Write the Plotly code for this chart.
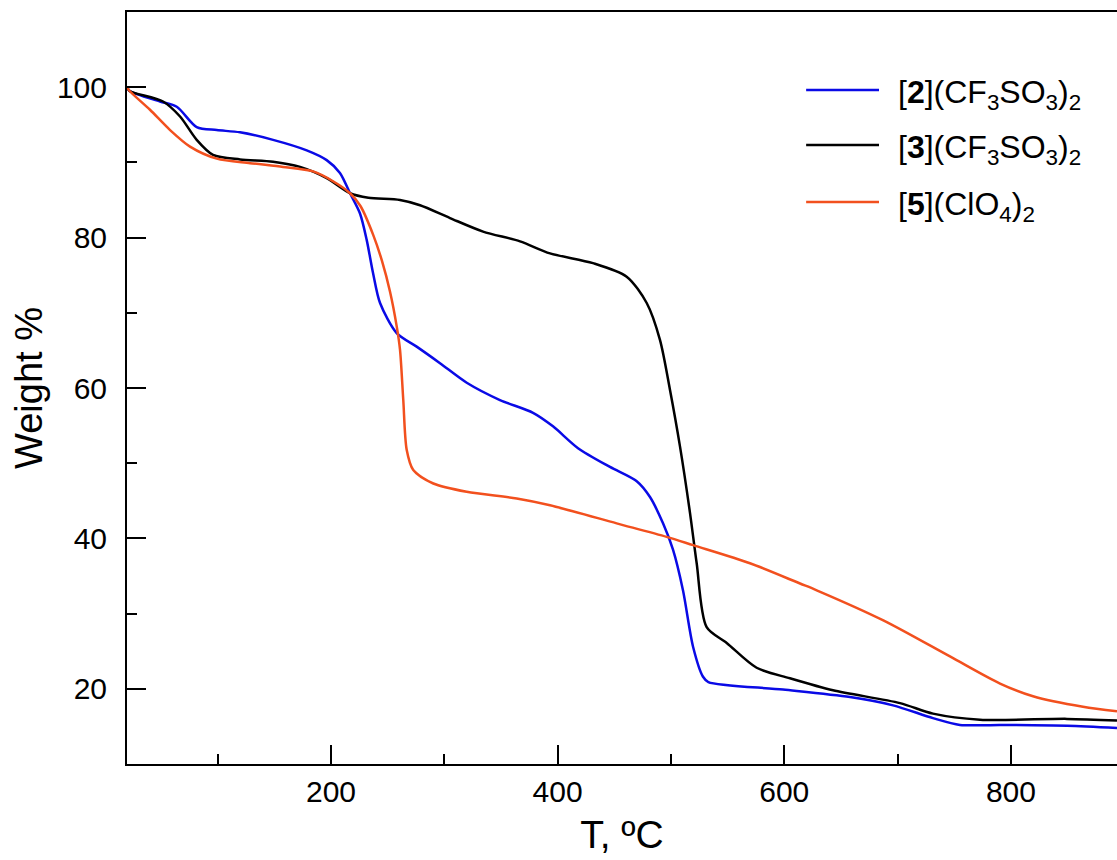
import plotly.graph_objects as go

# ---- data ----
series_names = ["[<b>2</b>](CF<sub>3</sub>SO<sub>3</sub>)<sub>2</sub>",
                "[<b>3</b>](CF<sub>3</sub>SO<sub>3</sub>)<sub>2</sub>",
                "[<b>5</b>](ClO<sub>4</sub>)<sub>2</sub>"]
series_colors = ["#0a0ae6", "#000000", "#f2501e"]

t2 = [20, 22.3, 49.1, 63.9, 81.5, 99.2, 119.7, 148.9, 178.6, 196.2, 207.9, 216.8,
      225.6, 231.5, 237.1, 243.3, 258.0, 275.6, 296.2, 319.8, 349.1, 378.3, 395.9,
      418.0, 446.2, 469.8, 481.5, 493.0, 501.8, 510.6, 519.5, 528.3, 533.0, 598.9,
      658.0, 696.0, 731.2, 755.0, 790.4, 849.5, 893.6]
w2 = [100, 99.5, 98.1, 97.4, 94.7, 94.3, 94.0, 93.0, 91.6, 90.3, 88.6, 85.9,
      83.2, 79.7, 75.3, 71.3, 67.3, 65.5, 63.3, 60.7, 58.4, 56.7, 54.9,
      52.0, 49.5, 47.6, 45.5, 42.0, 38.5, 33.1, 25.6, 21.6, 20.9, 19.9,
      18.9, 17.8, 16.1, 15.2, 15.2, 15.1, 14.8]

t3 = [20, 22.3, 51.8, 66.8, 81.5, 95.9, 119.7, 148.9, 172.7, 196.2, 216.8, 233.0,
      260.9, 278.6, 305.0, 334.2, 366.8, 393.3, 431.2, 460.9, 478.6, 490.3, 499.2,
      508.0, 516.8, 522.7, 531.5, 549.2, 575.6, 605.0, 643.0, 702.1, 731.2, 772.7,
      849.5, 893.6]
w3 = [100, 99.5, 98.1, 96.1, 93.0, 91.0, 90.4, 90.1, 89.4, 87.9, 85.9, 85.3,
      85.0, 84.3, 82.6, 80.8, 79.5, 77.9, 76.6, 74.8, 71.3, 66.4, 59.7,
      52.2, 43.4, 36.7, 28.2, 26.1, 22.8, 21.4, 19.8, 18.1, 16.7, 15.9,
      16.0, 15.8]

t5 = [20, 22.3, 40.3, 58.0, 75.6, 99.2, 128.6, 157.7, 184.2, 201.8, 216.8, 226.0,
      237.4, 245.0, 252.1, 258.0, 260.9, 263.8, 266.8, 272.6, 290.3, 319.8, 363.9,
      393.3, 452.1, 496.2, 519.5, 569.7, 613.9, 628.6, 687.4, 746.2, 790.4, 819.5,
      863.6, 893.6]
w5 = [100, 99.5, 97.0, 94.3, 92.1, 90.5, 89.9, 89.4, 88.8, 87.5, 85.9, 84.2,
      80.3, 76.9, 72.8, 68.2, 65.1, 58.4, 51.8, 49.1, 47.3, 46.2, 45.3,
      44.4, 42.0, 40.2, 39.1, 36.7, 34.0, 33.1, 29.1, 24.3, 20.7, 19.0,
      17.6, 17.0]

x_range = [20, 893.6]
y_range = [10, 110]
x_title = "T, ºC"
y_title = "Weight %"

FONT = "Liberation Sans, Arial, sans-serif"

fig = go.Figure()
for t, w, name, col in zip([t2, t3, t5], [w2, w3, w5], series_names, series_colors):
    fig.add_trace(go.Scatter(x=t, y=w, mode="lines", name=name,
                             line=dict(color=col, width=2.5, shape="spline", smoothing=0.8),
                             showlegend=False))

# manual legend (long sample lines like the reference)
leg_y = [0.8963, 0.8231, 0.7473]
for yy, name, col in zip(leg_y, series_names, series_colors):
    fig.add_shape(type="line", xref="paper", yref="paper", x0=0.686, x1=0.7596,
                  y0=yy, y1=yy, line=dict(color=col, width=2.5))
    fig.add_annotation(xref="paper", yref="paper", x=0.777, y=yy - 0.006,
                       text=name, showarrow=False, xanchor="left", yanchor="middle",
                       font=dict(family=FONT, size=32, color="black"))

axis_common = dict(showline=True, linecolor="black", linewidth=2,
                   ticks="inside", ticklen=19, tickwidth=2, tickcolor="black",
                   showgrid=False, zeroline=False,
                   tickfont=dict(family=FONT, size=30, color="black"))

fig.update_xaxes(range=x_range, tick0=0, dtick=200, mirror=True,
                 minor=dict(ticks="inside", ticklen=10, tickwidth=2, tickcolor="black", dtick=100),
                 title_text=x_title, title_standoff=14, ticklabelstandoff=0,
                 title_font=dict(family=FONT, size=39, color="black"),
                 **axis_common)
fig.update_yaxes(range=y_range, tick0=0, dtick=20, mirror=False,
                 minor=dict(ticks="inside", ticklen=10, tickwidth=2, tickcolor="black", dtick=10),
                 title_text=y_title, title_standoff=3, ticklabelstandoff=12,
                 title_font=dict(family=FONT, size=38, color="black"),
                 **axis_common)

fig.update_layout(width=1117, height=860,
                  margin=dict(l=127, r=0, t=12, b=96),
                  paper_bgcolor="white", plot_bgcolor="white",
                  showlegend=False)

fig.write_html("out.html", config={"displayModeBar": False},
               post_script="document.body.style.margin='0';document.body.style.overflow='hidden';")
